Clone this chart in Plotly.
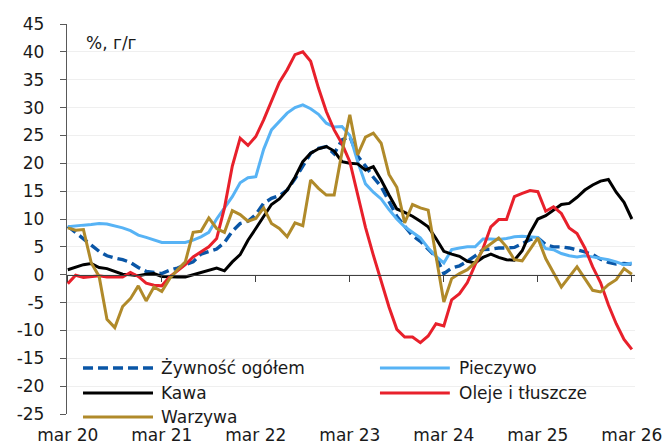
import plotly.graph_objects as go

# month index 0 = mar 2020 ... 72 = mar 2026
month_idx = list(range(73))
tick_pos = [0, 12, 24, 36, 48, 60, 72]
tick_labels = ["mar 20", "mar 21", "mar 22", "mar 23", "mar 24", "mar 25", "mar 26"]
y_ticks = [-25, -20, -15, -10, -5, 0, 5, 10, 15, 20, 25, 30, 35, 40, 45]
y_tick_labels = ["-25", "-20", "-15", "-10", "-5", "0", "5", "10", "15", "20", "25", "30",
                 "35", "40", "45"]

zywnosc = [8.7, 7.5, 6.5, 5.3, 4.2, 3.4, 3.0, 2.7, 2.2, 1.3, 0.6, 0.4, 0.2, 0.8, 1.2, 1.8,
           2.3, 3.7, 4.2, 4.6, 5.8, 7.8, 9.2, 9.6, 10.8, 12.8, 13.7, 14.2, 15.2, 17.2, 19.5,
           21.8, 22.7, 23.0, 21.7, 24.2, 24.8, 21.3, 19.5, 17.5, 15.8, 13.2, 10.5, 8.7, 7.0,
           6.0, 4.6, 3.2, 0.2, 1.2, 1.6, 2.4, 3.4, 4.5, 4.6, 4.8, 4.8, 4.9, 5.6, 6.3, 6.6,
           5.4, 5.0, 5.0, 4.8, 4.5, 4.1, 3.6, 2.8, 2.2, 1.9, 2.0, 1.9]

pieczywo = [8.6, 8.8, 8.9, 9.0, 9.2, 9.1, 8.8, 8.4, 7.9, 7.1, 6.7, 6.3, 5.8, 5.8, 5.8, 5.8,
            6.2, 6.8, 7.6, 10.0, 12.0, 14.0, 16.5, 17.4, 17.6, 22.5, 26.0, 27.5, 29.0, 30.0,
            30.5, 29.8, 28.8, 27.2, 26.5, 26.6, 25.0, 20.3, 16.3, 14.8, 13.6, 11.7, 10.0, 8.6,
            7.6, 6.6, 4.8, 3.3, 2.1, 4.5, 4.8, 5.0, 5.0, 6.4, 6.4, 6.3, 6.5, 6.8, 6.9, 6.8,
            6.7, 4.7, 4.5, 3.8, 3.4, 3.2, 3.4, 3.2, 3.0, 2.7, 2.3, 1.8, 2.1]

kawa = [0.9, 1.4, 1.8, 2.0, 1.3, 1.1, 0.6, 0.1, 0.0, -0.2, 0.1, 0.2, -0.3, -0.4, -0.4, -0.4,
        0.0, 0.4, 0.9, 1.2, 0.7, 2.3, 3.6, 6.2, 8.3, 10.5, 12.6, 13.6, 15.2, 17.5, 20.3, 21.8,
        22.6, 23.0, 22.2, 20.3, 20.0, 19.9, 18.8, 19.4, 17.0, 14.3, 11.8, 11.2, 10.5, 9.6, 8.6,
        6.5, 4.2, 3.7, 3.3, 2.4, 2.1, 3.1, 3.7, 3.1, 2.7, 2.6, 4.3, 7.5, 10.0, 10.6, 11.6,
        12.6, 12.8, 13.9, 15.2, 16.1, 16.8, 17.1, 14.8, 13.0, 10.0]

oleje = [-1.6, -0.1, -0.5, -0.3, -0.2, -0.4, -0.4, -0.4, 0.4, -0.3, -1.5, -1.9, -2.0, -0.4,
         0.7, 1.8, 3.2, 4.1, 5.0, 6.5, 12.0, 19.5, 24.5, 23.2, 24.8, 27.8, 31.0, 34.5, 36.8,
         39.5, 40.0, 38.3, 33.5, 29.3, 26.0, 23.5, 20.3, 14.5, 8.5, 3.5, -1.2, -5.8, -9.8,
         -11.2, -11.2, -12.2, -11.0, -8.8, -9.2, -4.5, -3.4, -1.4, 1.8, 4.7, 8.6, 9.9, 9.9,
         14.0, 14.6, 15.1, 14.9, 11.4, 12.2, 11.0, 8.4, 7.4, 4.8, 1.4, -1.4, -5.4, -8.8,
         -11.6, -13.4]

warzywa = [8.4, 8.0, 8.1, 2.1, -0.3, -8.0, -9.5, -5.7, -4.3, -2.0, -4.7, -2.2, -3.0, -0.7,
           0.9, 2.3, 7.6, 7.8, 10.2, 8.3, 7.6, 11.5, 10.8, 9.6, 10.1, 12.0, 9.2, 8.3, 6.8, 9.3,
           8.8, 17.0, 15.5, 14.3, 14.3, 22.0, 28.7, 21.5, 24.7, 25.4, 23.6, 18.0, 15.7, 9.3,
           12.6, 12.0, 11.6, 3.4, -4.9, -0.7, 0.2, 0.9, 2.2, 4.5, 5.6, 6.6, 5.0, 2.7, 2.5, 4.5,
           6.6, 2.9, 0.3, -2.2, -0.4, 1.4, -0.7, -2.8, -3.1, -1.8, -0.9, 1.1, 0.1]

series_names = ["Żywność ogółem", "Pieczywo", "Kawa", "Oleje i tłuszcze", "Warzywa"]
series_values = [zywnosc, pieczywo, kawa, oleje, warzywa]
series_colors = ["#0A56A6", "#57B3F5", "#000000", "#E8202B", "#B08A2A"]
series_dash = ["10px,5px", "solid", "solid", "solid", "solid"]

FONT = "DejaVu Sans"
TXT = "#1a1a1a"

fig = go.Figure()
for name, vals, col, dash in zip(series_names, series_values, series_colors, series_dash):
    fig.add_trace(go.Scatter(
        x=month_idx, y=vals, mode="lines", name=name,
        line=dict(color=col, width=3.4 if dash != "solid" else 3, dash=dash),
        showlegend=False, hoverinfo="skip"))

# dummy trace to hold the zero-line axis with ticks
fig.add_trace(go.Scatter(x=[month_idx[0]], y=[None], xaxis="x2", showlegend=False,
                         hoverinfo="skip", mode="lines"))

XR = [-0.1, 72.4]
fig.update_layout(
    width=667, height=448, autosize=False,
    margin=dict(l=67, r=32, t=24, b=34),
    paper_bgcolor="white", plot_bgcolor="white",
    font=dict(family=FONT, size=17, color=TXT),
    xaxis=dict(range=XR, tickvals=tick_pos, ticktext=tick_labels, showgrid=False,
               zeroline=False, showline=False, ticks="", ticklabelstandoff=9,
               automargin=False, tickfont=dict(size=17, color=TXT)),
    xaxis2=dict(range=XR, overlaying="x", anchor="free", position=25/70,
                tickvals=tick_pos, showticklabels=False, showgrid=False, zeroline=False,
                showline=True, linecolor="#404040", linewidth=1.3, automargin=False,
                ticks="outside", ticklen=6, tickcolor="#404040", tickwidth=1.3),
    yaxis=dict(range=[-25, 45], tickvals=y_ticks, ticktext=y_tick_labels, showgrid=True,
               gridcolor="#EFEFEF", gridwidth=1, zeroline=False, showline=True,
               linecolor="#595959", linewidth=1.3, ticks="outside", ticklen=6,
               tickcolor="#595959", ticklabelstandoff=12, automargin=False,
               tickfont=dict(size=17, color=TXT)),
)

# unit label
fig.add_annotation(x=0.03, y=0.951, xref="paper", yref="paper", text="%, г/г",
                   showarrow=False, xanchor="left", yanchor="middle",
                   font=dict(family=FONT, size=17, color=TXT))

# manual legend (two columns)
legend_cols = [(0.0282, 0.1514, 0.162), (0.551, 0.674, 0.6866)]
legend_rows = [0.1179, 0.0538, -0.0077]
slots = [(0, 0), (1, 0), (0, 1), (1, 1), (0, 2)]
for (c, r), name, col, dash in zip(slots, series_names, series_colors, series_dash):
    x0, x1, xt = legend_cols[c]
    yy = legend_rows[r]
    fig.add_shape(type="line", xref="paper", yref="paper", x0=x0, x1=x1, y0=yy, y1=yy,
                  line=dict(color=col, width=3.4 if dash != "solid" else 3, dash=dash))
    fig.add_annotation(x=xt, y=yy, xref="paper", yref="paper", text=name, showarrow=False,
                       xanchor="left", yanchor="middle",
                       font=dict(family=FONT, size=17, color=TXT))

fig.write_html(
    "out.html",
    config={"displayModeBar": False, "responsive": False},
    post_script=("document.body.style.margin='0';document.body.style.overflow='hidden';"
                 "Plotly.relayout('{plot_id}', {width: 667, height: 448, autosize: false});"),
)
